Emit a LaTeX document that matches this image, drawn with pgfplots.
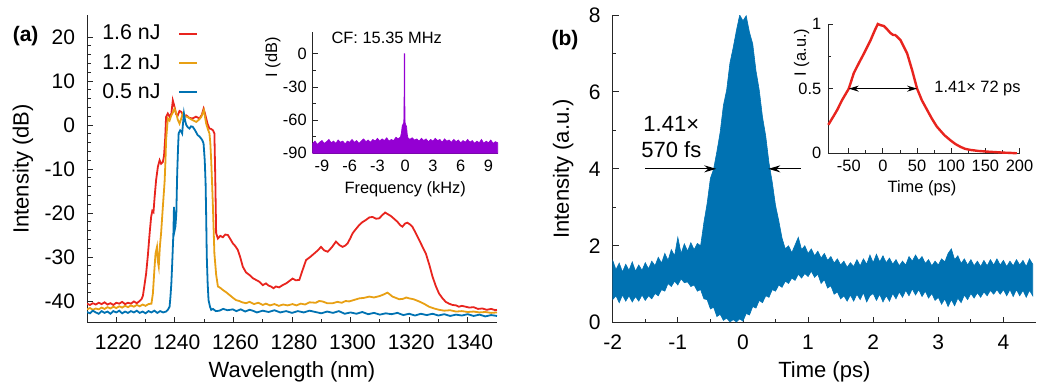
\documentclass[border=0pt]{standalone}
\usepackage{fontspec}
\setmainfont{Liberation Sans}
\usepackage{pgfplots}
\pgfplotsset{compat=1.18}
\usetikzlibrary{arrows.meta}
\definecolor{cred}{RGB}{232,36,30}
\definecolor{corange}{RGB}{232,160,20}
\definecolor{cblue}{RGB}{0,114,178}
\definecolor{cpurple}{RGB}{148,0,211}
\newcommand\labfont{\fontsize{11}{13}\selectfont}
\newcommand\tickfont{\fontsize{10.5}{12}\selectfont}
\newcommand\insfont{\fontsize{8.2}{9.5}\selectfont}
\pgfplotsset{
  mystyle/.style={
    scale only axis,
    axis x line*=bottom, axis y line*=left,
    axis line style={-, line width=0.5pt, black!85},
    tick align=inside,
    major tick length=3pt, minor tick length=1.8pt,
    every tick/.style={black!85, line width=0.45pt},
    /pgf/number format/assume math mode=true,
    /pgf/number format/1000 sep={},
    scaled ticks=false,
    tick label style={font=\tickfont},
    label style={font=\labfont},
  },
  insstyle/.style={
    mystyle,
    major tick length=2.5pt, minor tick length=1.5pt,
    tick label style={font=\insfont},
    label style={font=\insfont},
  }
}
\begin{document}
\begin{tikzpicture}
\useasboundingbox (0,0) rectangle (521.5pt,192.5pt);
% ---------------- panel (a) ----------------
\begin{axis}[mystyle,
  at={(43.5pt,31pt)}, anchor=south west,
  width=205pt, height=154pt,
  xmin=1210, xmax=1350, ymin=-45, ymax=25,
  xtick={1220,1240,...,1340}, minor x tick num=1,
  ytick={-40,-30,...,20}, minor y tick num=4,
  xticklabel style={yshift=-2.5pt, xshift=1pt},
  yticklabel style={xshift=-2.5pt},
  xlabel={Wavelength (nm)}, ylabel={Intensity (dB)},
  xlabel style={at={(axis description cs:0.5,-0.159)}, anchor=center},
  ylabel style={at={(axis description cs:-0.156,0.5)}, anchor=center},
  legend style={at={(axis description cs:0.012,0.995)}, anchor=north west,
    draw=none, fill=none, font=\fontsize{10.7}{12}\selectfont, row sep=1.6pt},
  legend plot pos=right, legend cell align=left,
  legend image code/.code={\path (0cm,0cm); \draw[#1, line width=1.2pt] (0.24cm,0cm) -- (0.56cm,0cm);},
]
\addplot[cred, line width=0.9pt] coordinates {
(1210,-40.6) (1211,-40.9) (1212,-40.5) (1213,-40.8) (1214,-40.4) (1215,-40.7) (1216,-40.3) (1217,-40.8) (1218,-40.5) (1219,-40.9) (1220,-40.4) (1221,-40.6) (1222,-40.2) (1223,-40.7) (1224,-40.4) (1225,-40.6) (1226,-40.1) (1227,-40.5) (1228,-40.0) (1228.6,-39.6) (1229.1,-38.8) (1229.6,-36.5) (1230.2,-33.7) (1230.8,-29.5) (1231.4,-24.5) (1231.9,-20.9) (1232.3,-19.5) (1232.7,-19.8) (1233.1,-16.3) (1233.6,-12.5) (1234.2,-9.5) (1234.8,-8.0) (1235.3,-8.8) (1235.9,-8.4) (1236.3,-7.0) (1236.7,-3.0) (1237.0,1.8) (1237.6,2.6) (1238.2,1.9) (1238.8,2.6) (1239.3,5.6) (1239.9,4.1) (1240.4,2.5) (1241.0,2.2) (1241.6,3.2) (1242.2,3.0) (1243.0,2.0) (1243.9,2.2) (1245,1.6) (1246.1,1.5) (1247.2,1.9) (1248.4,1.5) (1249.2,2.3) (1249.8,3.7) (1250.3,2.6) (1250.7,1.5) (1251.2,0.2) (1251.8,-0.8) (1252.4,-0.9) (1253.0,-1.2) (1253.5,-1.9) (1253.8,-12) (1254.1,-24.6) (1254.7,-25.8) (1255.5,-25.2) (1256.4,-25.5) (1257.2,-24.9) (1258.1,-25.0) (1259.0,-26.0) (1259.8,-26.9) (1260.6,-27.5) (1261.5,-28.4) (1262.3,-30.0) (1263.2,-32.2) (1264.3,-33.5) (1265.5,-34.1) (1266.6,-34.8) (1267.7,-35.2) (1268.8,-35.6) (1270,-36.4) (1271.1,-36.0) (1272,-36.5) (1272.8,-36.7) (1273.7,-37.1) (1274.5,-36.7) (1275.6,-36.9) (1276.8,-36.4) (1278,-36.0) (1279,-35.5) (1280.2,-34.9) (1281.3,-35.3) (1282.5,-35.2) (1283.6,-33.0) (1284.8,-30.7) (1286.2,-30.0) (1287.6,-29.2) (1288.8,-28.5) (1289.9,-27.7) (1291,-28.5) (1292.2,-28.8) (1293.6,-27.8) (1295,-26.5) (1296.2,-27.3) (1297.3,-27.7) (1298.2,-27.4) (1299,-26.9) (1300,-25.6) (1300.7,-24.6) (1302,-23.5) (1303,-22.7) (1304,-22.1) (1305.2,-21.6) (1306.4,-21.0) (1307.5,-20.9) (1308.7,-21.3) (1309.8,-21.2) (1310.8,-20.5) (1311.8,-19.9) (1312.8,-20.3) (1313.8,-20.7) (1315,-21.4) (1316,-22.0) (1317,-22.8) (1317.7,-23.1) (1318.6,-22.4) (1319.4,-22.2) (1320.3,-22.6) (1321.1,-23.1) (1322.2,-24.5) (1323.4,-26.1) (1324.5,-27.6) (1325.7,-29.2) (1326.9,-31.8) (1328,-34.5) (1329.1,-36.6) (1330.2,-38.3) (1331.4,-39.4) (1332.5,-40.2) (1333.6,-40.6) (1334.8,-40.9) (1336,-41.0) (1337,-41.3) (1338,-41.1) (1339.3,-41.3) (1340.5,-41.5) (1342,-41.4) (1343.5,-41.8) (1345,-41.7) (1346.5,-42.0) (1348,-41.8) (1349.5,-42.1) (1350,-42.0)
};
\addlegendentry{1.6 nJ}
\addplot[corange, line width=0.9pt] coordinates {
(1210,-41.9) (1211,-41.6) (1212,-42.0) (1213,-41.7) (1214,-41.9) (1215,-41.5) (1216,-41.8) (1217,-41.4) (1218,-41.7) (1219,-41.3) (1220,-41.6) (1221,-41.2) (1222,-41.5) (1223,-41.1) (1224,-41.4) (1225,-41.0) (1226,-41.3) (1227,-40.9) (1228,-41.2) (1229,-40.8) (1230,-41.1) (1231,-40.7) (1232,-40.6) (1232.5,-38.3) (1233.0,-33.0) (1233.4,-29.2) (1233.9,-27.7) (1234.2,-31.0) (1234.5,-32.2) (1234.9,-27.5) (1235.3,-24.6) (1235.9,-18.6) (1236.5,-12.9) (1236.8,-8.0) (1237.0,-3.5) (1237.6,1.5) (1238.2,1.0) (1238.8,2.2) (1239.3,2.8) (1239.9,3.7) (1240.5,2.6) (1241.0,1.2) (1241.6,0.3) (1242.2,1.5) (1242.7,2.6) (1243.5,2.0) (1244.4,1.8) (1245.5,1.3) (1246.4,1.0) (1247.3,0.7) (1248.2,1.2) (1249.0,1.8) (1249.9,3.4) (1250.3,1.8) (1250.7,0.3) (1251.3,-1.0) (1251.8,-1.9) (1252.1,-4.0) (1252.4,-8.0) (1252.7,-13.0) (1253.0,-18.6) (1253.5,-29.2) (1254.1,-34.0) (1254.7,-36.7) (1255.5,-37.0) (1256.4,-37.5) (1257.5,-38.0) (1258.6,-38.6) (1259.7,-39.2) (1260.9,-39.8) (1262,-40.0) (1263,-40.3) (1264.3,-40.5) (1265.5,-40.2) (1267,-40.7) (1268.5,-40.4) (1270,-40.9) (1271.1,-40.6) (1272.5,-41.0) (1274,-40.7) (1275.5,-41.1) (1277,-40.8) (1278.5,-41.0) (1280.2,-40.7) (1281.5,-41.0) (1283,-40.6) (1284.5,-40.8) (1286,-40.3) (1288.1,-40.4) (1289.3,-40.0) (1290.4,-40.1) (1292,-40.5) (1293.9,-40.5) (1295.5,-40.2) (1297,-40.4) (1298.3,-40.0) (1299.5,-40.1) (1301,-39.8) (1302,-39.6) (1303,-39.4) (1304.5,-39.3) (1306.4,-39.0) (1308,-39.2) (1309.8,-38.9) (1311,-38.6) (1312.6,-38.1) (1313.4,-38.5) (1314.3,-39.0) (1315.5,-39.3) (1316.6,-39.6) (1318,-39.5) (1319,-39.2) (1320,-39.4) (1321.5,-39.6) (1323.4,-40.1) (1325,-40.6) (1326.8,-41.3) (1328.5,-41.7) (1330.2,-42.0) (1332,-42.2) (1334,-42.1) (1336,-42.4) (1338,-42.3) (1340,-42.5) (1342,-42.4) (1344,-42.6) (1346,-42.5) (1348,-42.7) (1350,-42.6)
};
\addlegendentry{1.2 nJ}
\addplot[cblue, line width=0.9pt] coordinates {
(1210,-42.5) (1211,-42.8) (1212,-42.2) (1213,-42.6) (1214,-42.9) (1215,-42.3) (1216,-42.7) (1217,-42.4) (1218,-42.9) (1219,-42.3) (1220,-42.6) (1221,-42.2) (1222,-42.8) (1223,-42.4) (1224,-42.7) (1225,-42.3) (1226,-42.6) (1227,-42.2) (1228,-42.7) (1229,-42.4) (1230,-42.8) (1231,-42.3) (1232,-42.6) (1233,-42.2) (1234,-42.7) (1235,-42.3) (1236,-42.6) (1237,-42.4) (1237.6,-42.0) (1238.2,-41.3) (1238.5,-39.0) (1238.8,-36.0) (1239.1,-31.4) (1239.5,-24.6) (1239.7,-18.6) (1239.9,-24.0) (1240.2,-23.0) (1240.5,-20.1) (1240.8,-11.0) (1241.1,-5.0) (1241.3,-1.9) (1241.8,-1.2) (1242.2,-1.5) (1242.5,-1.9) (1242.8,0.5) (1243.1,2.6) (1243.5,1.0) (1243.9,0.0) (1244.4,-0.5) (1245.0,-0.8) (1245.5,-0.3) (1246.1,-0.4) (1246.9,-1.2) (1247.8,-2.3) (1248.4,-2.6) (1249.0,-3.1) (1249.4,-3.5) (1249.8,-4.2) (1250.2,-8.0) (1250.5,-13.3) (1250.7,-21.0) (1250.9,-29.9) (1251.2,-36.0) (1251.5,-39.8) (1252.0,-41.3) (1252.4,-42.0) (1253,-41.8) (1254,-42.3) (1255.2,-42.2) (1256.5,-41.8) (1258,-42.1) (1259.8,-41.9) (1261,-42.3) (1262.5,-41.9) (1264,-42.4) (1265.5,-42.0) (1266.6,-42.2) (1268,-42.6) (1270,-42.2) (1272,-42.5) (1274,-42.1) (1276,-42.6) (1278,-42.3) (1280,-42.7) (1282,-42.3) (1284,-42.6) (1286,-42.2) (1288,-42.5) (1290,-42.8) (1292,-42.4) (1294,-42.7) (1296,-42.3) (1298,-42.9) (1300,-42.6) (1302,-42.9) (1304,-42.5) (1306,-43.0) (1308,-42.7) (1310,-43.1) (1312,-42.8) (1314,-43.0) (1316,-42.7) (1318,-43.2) (1320,-42.9) (1322,-43.3) (1324,-42.9) (1326,-43.2) (1328,-42.9) (1330,-43.3) (1332,-43.0) (1334,-43.4) (1336,-43.1) (1338,-43.3) (1340,-43.0) (1342,-43.4) (1344,-43.1) (1346,-43.5) (1348,-43.2) (1350,-43.4)
};
\addlegendentry{0.5 nJ}
\end{axis}
\node[font=\bfseries\fontsize{10.5}{12}\selectfont] at (12.8pt,174.5pt) {(a)};
% ---------------- inset (a) ----------------
\begin{axis}[insstyle,
  at={(156.35pt,115.85pt)}, anchor=south west,
  width=92.5pt, height=60.8pt,
  xmin=-10, xmax=10, ymin=-90, ymax=20,
  xtick={-9,-6,...,9}, ytick={-90,-60,-30,0}, minor y tick num=1,
  yticklabel style={xshift=0.5pt},
  xlabel={Frequency (kHz)}, ylabel={I (dB)},
  xlabel style={at={(axis description cs:0.5,-0.294)}, anchor=center},
  ylabel style={at={(axis description cs:-0.215,0.79)}, anchor=center},
  clip=false,
]
\addplot[fill=cpurple, draw=cpurple, line width=0.35pt] coordinates {
(-10,-90) (-10,-81) (-9.75,-79) (-9.5,-82) (-9.25,-80) (-9,-78.5) (-8.75,-81) (-8.5,-79.5) (-8.25,-77.5) (-8,-80.5) (-7.75,-79) (-7.5,-81) (-7.25,-78) (-7,-80) (-6.75,-79) (-6.5,-81.5) (-6.25,-79) (-6,-80) (-5.75,-77.5) (-5.5,-80) (-5.25,-78.5) (-5,-81) (-4.75,-79) (-4.5,-77) (-4.25,-79.5) (-4,-78) (-3.75,-80) (-3.5,-77.5) (-3.25,-79) (-3,-76.5) (-2.75,-79) (-2.5,-77) (-2.25,-78.5) (-2,-76) (-1.75,-79) (-1.5,-77.5) (-1.25,-78.5) (-1,-75.5) (-0.75,-77) (-0.5,-75) (-0.4,-71) (-0.32,-65) (-0.25,-64) (-0.15,-62) (-0.12,-40) (-0.1,0) (-0.06,0) (-0.04,-40) (-0.02,-62) (0.05,-64) (0.15,-66) (0.22,-73) (0.3,-76) (0.5,-77.5) (0.75,-76) (1,-78) (1.25,-77) (1.5,-79) (1.75,-76.5) (2,-78.5) (2.25,-77) (2.5,-79.5) (2.75,-77.5) (3,-79) (3.25,-76.5) (3.5,-78.5) (3.75,-77.5) (4,-80) (4.25,-77) (4.5,-79) (4.75,-78) (5,-80) (5.25,-77.5) (5.5,-79.5) (5.75,-78) (6,-80.5) (6.25,-78.5) (6.5,-80) (6.75,-77.5) (7,-80) (7.25,-78.5) (7.5,-81) (7.75,-79) (8,-80.5) (8.25,-77.5) (8.5,-81) (8.75,-79) (9,-80.5) (9.25,-78) (9.5,-81) (9.75,-79.5) (10,-80.5) (10,-90)
} -- cycle;
\node[font=\insfont] at (axis cs:-2,14.4) {CF: 15.35 MHz};
\end{axis}
% ---------------- panel (b) ----------------
\begin{axis}[mystyle,
  at={(306.35pt,31.15pt)}, anchor=south west,
  width=211.65pt, height=153.85pt,
  xmin=-2, xmax=4.5, ymin=0, ymax=8,
  xtick={-2,-1,...,4}, minor x tick num=1,
  ytick={0,2,...,8}, minor y tick num=1,
  xticklabel style={yshift=-2.5pt},
  yticklabel style={xshift=-2.5pt},
  xlabel={Time (ps)}, ylabel={Intensity (a.u.)},
  xlabel style={at={(axis description cs:0.5,-0.16)}, anchor=center},
  ylabel style={at={(axis description cs:-0.117,0.5)}, anchor=center},
]
\addplot[fill=cblue, draw=cblue, line width=0.3pt] coordinates {
(-2.00,1.62) (-1.95,1.38) (-1.90,1.55) (-1.85,1.32) (-1.80,1.52) (-1.75,1.36) (-1.70,1.58) (-1.65,1.34) (-1.60,1.50) (-1.55,1.36) (-1.50,1.56) (-1.45,1.40) (-1.40,1.60) (-1.35,1.48) (-1.30,1.70) (-1.25,1.55) (-1.20,1.80) (-1.15,1.62) (-1.10,1.90) (-1.05,1.74) (-1.00,2.22) (-0.95,1.80) (-0.90,2.05) (-0.85,1.86) (-0.80,2.08) (-0.75,1.90) (-0.70,2.06) (-0.65,2.00) (-0.60,2.60) (-0.55,3.10) (-0.50,3.75) (-0.45,4.00) (-0.40,4.45) (-0.35,4.95) (-0.30,5.65) (-0.25,6.05) (-0.20,6.75) (-0.15,7.15) (-0.10,7.60) (-0.05,8.00) (0.00,7.85) (0.05,7.98) (0.10,7.55) (0.15,7.25) (0.20,6.55) (0.25,6.05) (0.30,5.35) (0.35,4.85) (0.40,4.15) (0.45,3.65) (0.50,3.05) (0.55,2.65) (0.60,2.20) (0.65,1.92) (0.70,2.00) (0.75,1.82) (0.80,2.02) (0.85,2.22) (0.90,1.90) (0.95,2.00) (1.00,1.80) (1.05,1.92) (1.10,1.74) (1.15,1.86) (1.20,1.68) (1.25,1.80) (1.30,1.62) (1.35,1.72) (1.40,1.55) (1.45,1.66) (1.50,1.50) (1.55,1.60) (1.60,1.44) (1.65,1.56) (1.70,1.46) (1.75,1.64) (1.80,1.48) (1.85,1.66) (1.90,1.52) (1.95,1.76) (2.00,1.56) (2.05,1.78) (2.10,1.58) (2.15,1.74) (2.20,1.56) (2.25,1.68) (2.30,1.52) (2.35,1.64) (2.40,1.48) (2.45,1.60) (2.50,1.50) (2.55,1.72) (2.60,1.60) (2.65,1.76) (2.70,1.62) (2.75,1.72) (2.80,1.54) (2.85,1.64) (2.90,1.48) (2.95,1.60) (3.00,1.50) (3.05,1.66) (3.10,1.58) (3.15,1.80) (3.20,1.92) (3.25,1.64) (3.30,1.74) (3.35,1.54) (3.40,1.66) (3.45,1.50) (3.50,1.64) (3.55,1.48) (3.60,1.60) (3.65,1.46) (3.70,1.62) (3.75,1.48) (3.80,1.64) (3.85,1.50) (3.90,1.66) (3.95,1.50) (4.00,1.62) (4.05,1.46) (4.10,1.60) (4.15,1.48) (4.20,1.64) (4.25,1.50) (4.30,1.62) (4.35,1.46) (4.40,1.66) (4.45,1.52)
(4.45,0.70) (4.40,0.84) (4.35,0.66) (4.30,0.84) (4.25,0.70) (4.20,0.86) (4.15,0.68) (4.10,0.86) (4.05,0.70) (4.00,0.86) (3.95,0.74) (3.90,0.86) (3.85,0.74) (3.80,0.84) (3.75,0.70) (3.70,0.80) (3.65,0.66) (3.60,0.78) (3.55,0.64) (3.50,0.76) (3.45,0.60) (3.40,0.72) (3.35,0.52) (3.30,0.64) (3.25,0.44) (3.20,0.60) (3.15,0.42) (3.10,0.62) (3.05,0.48) (3.00,0.66) (2.95,0.58) (2.90,0.76) (2.85,0.64) (2.80,0.82) (2.75,0.68) (2.70,0.86) (2.65,0.72) (2.60,0.88) (2.55,0.70) (2.50,0.84) (2.45,0.66) (2.40,0.80) (2.35,0.62) (2.30,0.76) (2.25,0.56) (2.20,0.70) (2.15,0.54) (2.10,0.74) (2.05,0.58) (2.00,0.76) (1.95,0.70) (1.90,0.54) (1.85,0.78) (1.80,0.60) (1.75,0.74) (1.70,0.56) (1.65,0.72) (1.60,0.56) (1.55,0.70) (1.50,0.62) (1.45,0.80) (1.40,0.74) (1.35,0.96) (1.30,0.90) (1.25,1.12) (1.20,1.02) (1.15,1.26) (1.10,1.18) (1.05,1.34) (1.00,1.20) (0.95,1.28) (0.90,1.16) (0.85,1.26) (0.80,1.10) (0.75,1.16) (0.70,1.02) (0.65,1.08) (0.60,0.92) (0.55,0.98) (0.50,0.82) (0.45,0.86) (0.40,0.66) (0.35,0.70) (0.30,0.52) (0.25,0.58) (0.20,0.38) (0.15,0.42) (0.10,0.20) (0.05,0.24) (0.00,0.04) (-0.05,0.10) (-0.10,0.02) (-0.15,0.08) (-0.20,0.02) (-0.25,0.12) (-0.30,0.06) (-0.35,0.22) (-0.40,0.16) (-0.45,0.40) (-0.50,0.36) (-0.55,0.60) (-0.60,0.62) (-0.65,0.86) (-0.70,0.82) (-0.75,0.98) (-0.80,0.94) (-0.85,1.06) (-0.90,1.04) (-0.95,1.14) (-1.00,0.98) (-1.05,1.08) (-1.10,0.94) (-1.15,1.02) (-1.20,0.82) (-1.25,0.86) (-1.30,0.70) (-1.35,0.76) (-1.40,0.62) (-1.45,0.70) (-1.50,0.58) (-1.55,0.72) (-1.60,0.56) (-1.65,0.68) (-1.70,0.54) (-1.75,0.70) (-1.80,0.56) (-1.85,0.72) (-1.90,0.52) (-1.95,0.70) (-2.00,0.60)
} -- cycle;
\draw[-{Stealth[length=6pt,width=3.5pt]}, line width=0.6pt] (axis cs:-1.5,4) -- (axis cs:-0.41,4);
\draw[-{Stealth[length=6pt,width=3.5pt]}, line width=0.6pt] (axis cs:0.89,4) -- (axis cs:0.39,4);
\node[font=\labfont, align=center, inner sep=0pt] at (axis cs:-1.1,4.82) {1.41×\\570 fs};
\end{axis}
\node[font=\bfseries\fontsize{10.5}{12}\selectfont] at (282.5pt,172.5pt) {(b)};
% ---------------- inset (b) ----------------
\begin{axis}[insstyle,
  at={(414.15pt,115.85pt)}, anchor=south west,
  width=95.6pt, height=64.65pt,
  xmin=-80, xmax=200, ymin=0, ymax=1,
  xtick={-50,0,...,200}, minor x tick num=1,
  ytick={0,0.5,1}, minor y tick num=1,
  xlabel={Time (ps)}, ylabel={I (a.u.)},
  xlabel style={at={(axis description cs:0.49,-0.27)}, anchor=center},
  ylabel style={at={(axis description cs:-0.139,0.78)}, anchor=center},
  clip=false,
]
\addplot[cred, line width=1.2pt] coordinates {
(-80,0.22) (-72,0.29) (-67,0.335) (-60,0.41) (-50,0.50) (-42.7,0.62) (-35,0.70) (-28,0.77) (-18,0.876) (-12,0.95) (-7.5,1.0) (-3,0.99) (1.2,0.985) (6,0.96) (11,0.93) (15,0.915) (18,0.915) (22,0.895) (25.6,0.876) (30,0.83) (35.4,0.773) (42.7,0.644) (50,0.50) (57,0.41) (64.7,0.335) (72,0.265) (79,0.206) (90,0.14) (99,0.10) (106,0.072) (113.5,0.05) (120,0.035) (128,0.026) (140,0.018) (152.5,0.013) (165,0.009) (177,0.005) (187,0.003) (196,0)
};
\draw[{Stealth[length=5pt,width=3pt]}-{Stealth[length=5pt,width=3pt]}, line width=0.6pt] (axis cs:-50,0.5) -- (axis cs:50,0.5);
\node[font=\insfont, anchor=west] at (axis cs:65,0.5) {1.41× 72 ps};
\end{axis}
\end{tikzpicture}
\end{document}
